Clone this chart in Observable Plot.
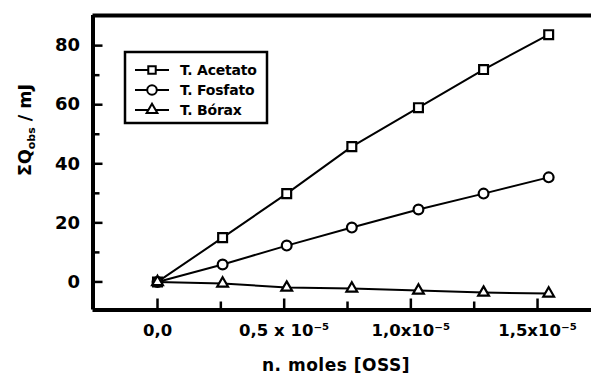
<!DOCTYPE html>
<html>
<head>
<meta charset="utf-8">
<script src="https://cdn.jsdelivr.net/npm/d3@7"></script>
<script src="https://cdn.jsdelivr.net/npm/@observablehq/plot@0.6"></script>
<style>
  html, body { margin: 0; padding: 0; background: #fff; }
  #chart svg { display: block; }
</style>
</head>
<body>
<div id="chart"></div>
<script>
// n. moles [OSS], in units of 10^-5 mol
const xMoles = [0, 0.257, 0.51, 0.767, 1.03, 1.287, 1.544];
// ΣQobs / mJ
const qAcetato = [0, 15.0, 29.9, 45.8, 59.0, 71.9, 83.7];
const qFosfato = [0, 5.9, 12.3, 18.4, 24.5, 29.9, 35.4];
const qBorax   = [0, -0.5, -1.9, -2.2, -2.9, -3.6, -3.9];
const seriesNames = ["T. Acetato", "T. Fosfato", "T. Bórax"];
const seriesSymbols = ["square", "circle", "triangle"];
const yMajorTicks = [0, 20, 40, 60, 80];
const yMinorTicks = [10, 30, 50, 70];
const xMajorTicks = [0, 0.5, 1.0, 1.5];
const xMinorTicks = [0.25, 0.75, 1.25];
const xTickLabels = ["0,0", "0,5 x 10⁻⁵", "1,0x10⁻⁵", "1,5x10⁻⁵"];

const seriesValues = [qAcetato, qFosfato, qBorax];
const rows = seriesNames.flatMap((name, s) =>
  xMoles.map((x, i) => ({series: name, x, q: seriesValues[s][i]})));

const xDomain = [-0.2546, 1.713];
const yDomain = [-9.5, 90.2];
const FONT = "'DejaVu Sans', sans-serif";
const markerR = [5.0, 4.9, 4.0];

const plot = Plot.plot({
  width: 591,
  height: 376,
  marginLeft: 92.5,
  marginRight: 0,
  marginTop: 15,
  marginBottom: 66.5,
  style: {fontFamily: FONT, fontWeight: "bold", background: "#fff", color: "#000"},
  x: {domain: xDomain},
  y: {domain: yDomain},
  symbol: {domain: seriesNames, range: seriesSymbols},
  marks: [
    // y axis labels and inward ticks
    Plot.axisY({ticks: yMajorTicks, tickSize: 0, tickPadding: 13, label: null,
      fontSize: 18, fontWeight: "bold", tickFormat: d => String(d)}),
    Plot.axisY({ticks: yMajorTicks, tickSize: -10, strokeWidth: 2.5, label: null, tickFormat: () => ""}),
    Plot.axisY({ticks: yMinorTicks, tickSize: -7, strokeWidth: 2.5, label: null, tickFormat: () => ""}),
    // x axis labels and inward ticks
    Plot.axisX({ticks: xMajorTicks, tickSize: 0, tickPadding: 14, label: null,
      fontSize: 16.5, fontWeight: "bold",
      tickFormat: d => xTickLabels[xMajorTicks.indexOf(d)]}),
    Plot.axisX({ticks: xMajorTicks, tickSize: -11, strokeWidth: 2.5, label: null, tickFormat: () => ""}),
    Plot.axisX({ticks: xMinorTicks, tickSize: -8, strokeWidth: 2.5, label: null, tickFormat: () => ""}),
    // frame: left, bottom, top
    Plot.ruleX([xDomain[0]], {stroke: "#000", strokeWidth: 4}),
    Plot.ruleY([yDomain[0], yDomain[1]], {stroke: "#000", strokeWidth: 4}),
    // series
    Plot.line(rows, {x: "x", y: "q", z: "series", stroke: "#000", strokeWidth: 2}),
    ...seriesNames.map((name, s) =>
      Plot.dot(rows.filter(d => d.series === name), {x: "x", y: "q", symbol: "series",
        r: markerR[s], fill: "#fff", stroke: "#000", strokeWidth: 2.2}))
  ]
});

document.getElementById("chart").appendChild(plot);

const svg = d3.select(plot);

// y axis title with subscript
const yt = svg.append("text")
  .attr("transform", "translate(31,130) rotate(-90)")
  .attr("text-anchor", "middle")
  .attr("font-family", FONT)
  .attr("font-weight", "bold")
  .attr("font-size", 17.5)
  .attr("fill", "#000");
yt.append("tspan").text("ΣQ");
yt.append("tspan").attr("font-size", 11).attr("dy", 4).text("obs");
yt.append("tspan").attr("dy", -4).text(" / mJ");

// x axis title
svg.append("text")
  .attr("x", 336).attr("y", 371)
  .attr("text-anchor", "middle")
  .attr("font-family", FONT)
  .attr("font-weight", "bold")
  .attr("font-size", 17)
  .attr("letter-spacing", 0.5)
  .attr("fill", "#000")
  .text("n. moles [OSS]");

// legend
const lg = svg.append("g");
lg.append("rect")
  .attr("x", 125).attr("y", 52).attr("width", 142).attr("height", 71)
  .attr("fill", "#fff").attr("stroke", "#000").attr("stroke-width", 2.5);
const legendY = [70, 90, 110];
const symbolTypes = {square: d3.symbolSquare, circle: d3.symbolCircle, triangle: d3.symbolTriangle};
const symbolR = [4.2, 4.8, 4.0];
seriesNames.forEach((name, i) => {
  const y = legendY[i];
  lg.append("line").attr("x1", 135).attr("x2", 169).attr("y1", y).attr("y2", y)
    .attr("stroke", "#000").attr("stroke-width", 2);
  lg.append("path")
    .attr("transform", `translate(152,${y})`)
    .attr("d", d3.symbol(symbolTypes[seriesSymbols[i]], Math.PI * symbolR[i] * symbolR[i])())
    .attr("fill", "#fff").attr("stroke", "#000").attr("stroke-width", 2);
  lg.append("text")
    .attr("x", 180).attr("y", y).attr("dy", "0.36em")
    .attr("text-anchor", "start")
    .attr("font-family", FONT).attr("font-weight", "bold").attr("font-size", 14)
    .attr("letter-spacing", -0.2)
    .attr("fill", "#000")
    .text(name);
});
</script>
</body>
</html>
